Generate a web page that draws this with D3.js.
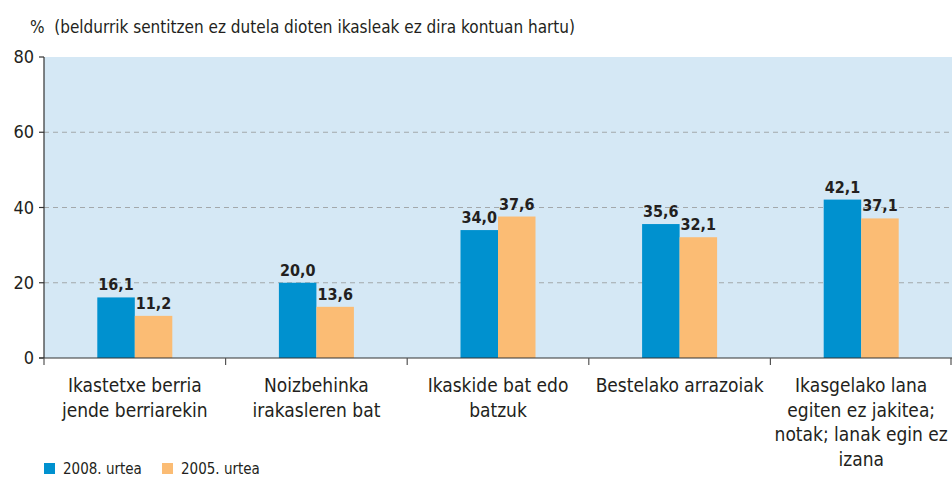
<!DOCTYPE html>
<html>
<head>
<meta charset="utf-8">
<script src="https://cdn.jsdelivr.net/npm/d3@7"></script>
<style>
  body { margin: 0; background: #fff; }
  text { font-family: "Liberation Sans Narrow", "DejaVu Sans Condensed", sans-serif; }
</style>
</head>
<body>
<div id="main"></div>
<script>
var categories = [
  ["Ikastetxe berria", "jende berriarekin"],
  ["Noizbehinka", "irakasleren bat"],
  ["Ikaskide bat edo", "batzuk"],
  ["Bestelako arrazoiak"],
  ["Ikasgelako lana", "egiten ez jakitea;", "notak; lanak egin ez", "izana"]
];
var series2008 = [16.1, 20.0, 34.0, 35.6, 42.1];
var series2005 = [11.2, 13.6, 37.6, 32.1, 37.1];
var seriesNames = ["2008. urtea", "2005. urtea"];
var yTicks = [0, 20, 40, 60, 80];

var ctx = {w: 952, h: 481, left: 44, right: 952, top: 57, bottom: 358,
           colors: ["#0091cf", "#fbbc74"]};

var svg = d3.select("#main").append("svg")
  .attr("width", ctx.w).attr("height", ctx.h);

var x = d3.scaleBand().domain(d3.range(categories.length))
  .range([ctx.left, ctx.right]);
var y = d3.scaleLinear().domain([0, 80]).range([ctx.bottom, ctx.top]);
var barW = 37.5;

// background
svg.append("rect")
  .attr("x", ctx.left).attr("y", ctx.top)
  .attr("width", ctx.right - ctx.left).attr("height", ctx.bottom - ctx.top)
  .attr("fill", "#d5e8f5");

// grid lines
svg.selectAll("line.grid").data(yTicks.filter(function(d){ return d > 0 && d < 80; }))
  .enter().append("line")
  .attr("x1", ctx.left).attr("x2", ctx.right)
  .attr("y1", function(d){ return y(d); }).attr("y2", function(d){ return y(d); })
  .attr("stroke", "#a3a8ab").attr("stroke-width", 1.2)
  .attr("stroke-dasharray", "5,4");

// bars
var rows = categories.map(function(c, i){ return {i: i, v: [series2008[i], series2005[i]]}; });
var g = svg.selectAll("g.cat").data(rows).enter().append("g");
[0, 1].forEach(function(s){
  g.append("rect")
    .attr("x", function(d){ return x(d.i) + x.bandwidth()/2 - barW + s*barW; })
    .attr("y", function(d){ return y(d.v[s]); })
    .attr("width", barW)
    .attr("height", function(d){ return y(0) - y(d.v[s]); })
    .attr("fill", ctx.colors[s]);
  g.append("text")
    .attr("x", function(d){ return x(d.i) + x.bandwidth()/2 - barW/2 + s*barW; })
    .attr("y", function(d){ return y(d.v[s]) - 7; })
    .attr("text-anchor", "middle")
    .attr("font-size", 16).attr("font-weight", "bold").attr("fill", "#231f20")
    .text(function(d){ return d.v[s].toFixed(1).replace(".", ","); });
});

// y axis
svg.append("line").attr("x1", ctx.left).attr("x2", ctx.left)
  .attr("y1", ctx.top).attr("y2", ctx.bottom).attr("stroke", "#333").attr("stroke-width", 1.2);
svg.selectAll("line.ytick").data(yTicks).enter().append("line")
  .attr("x1", ctx.left - 5).attr("x2", ctx.left)
  .attr("y1", function(d){ return y(d); }).attr("y2", function(d){ return y(d); })
  .attr("stroke", "#333").attr("stroke-width", 1.2);
svg.selectAll("text.ylab").data(yTicks).enter().append("text")
  .attr("x", ctx.left - 10).attr("y", function(d){ return y(d) + 6; })
  .attr("text-anchor", "end").attr("font-size", 18).attr("fill", "#231f20")
  .text(function(d){ return d; });

// x axis
svg.append("line").attr("x1", ctx.left - 5).attr("x2", ctx.right)
  .attr("y1", ctx.bottom).attr("y2", ctx.bottom).attr("stroke", "#333").attr("stroke-width", 1.2);
var bounds = d3.range(categories.length + 1).map(function(i){
  return i < categories.length ? x(i) : ctx.right - 1; });
svg.selectAll("line.xtick").data(bounds).enter().append("line")
  .attr("x1", function(d){ return d; }).attr("x2", function(d){ return d; })
  .attr("y1", ctx.bottom).attr("y2", ctx.bottom + 7)
  .attr("stroke", "#555").attr("stroke-width", 1.2);

// category labels
var lab = svg.selectAll("text.cat").data(categories).enter().append("text")
  .attr("text-anchor", "middle").attr("font-size", 19).attr("fill", "#231f20")
  .attr("x", function(d, i){ return x(i) + x.bandwidth()/2; })
  .attr("y", 392);
lab.selectAll("tspan").data(function(d){ return d; }).enter().append("tspan")
  .attr("x", function(){ return d3.select(this.parentNode).attr("x"); })
  .attr("dy", function(d, j){ return j === 0 ? 0 : 24.5; })
  .text(function(d){ return d; });

// title
svg.append("text").attr("x", 30).attr("y", 33)
  .attr("font-size", 17).attr("fill", "#231f20").attr("xml:space", "preserve")
  .text("%  (beldurrik sentitzen ez dutela dioten ikasleak ez dira kontuan hartu)");

// legend
var leg = svg.selectAll("g.leg").data(seriesNames).enter().append("g")
  .attr("transform", function(d, i){ return "translate(" + (44 + i*118) + ",463)"; });
leg.append("rect").attr("width", 11).attr("height", 11)
  .attr("fill", function(d, i){ return ctx.colors[i]; });
leg.append("text").attr("x", 19).attr("y", 11)
  .attr("font-size", 15).attr("fill", "#231f20")
  .text(function(d){ return d; });
</script>
</body>
</html>
